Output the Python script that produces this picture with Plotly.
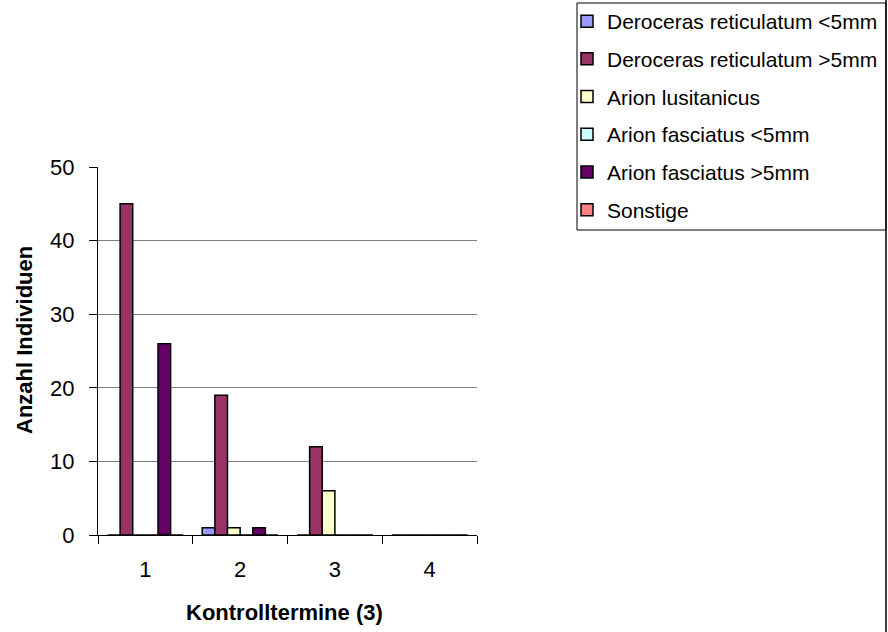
import plotly.graph_objects as go

categories = ["1", "2", "3", "4"]
series_names = [
    "Deroceras reticulatum <5mm",
    "Deroceras reticulatum >5mm",
    "Arion lusitanicus",
    "Arion fasciatus <5mm",
    "Arion fasciatus >5mm",
    "Sonstige",
]
dr_small = [0, 1, 0, 0]
dr_large = [45, 19, 12, 0]
arion_lus = [0, 1, 6, 0]
af_small = [0, 0, 0, 0]
af_large = [26, 1, 0, 0]
sonstige = [0, 0, 0, 0]
series_values = [dr_small, dr_large, arion_lus, af_small, af_large, sonstige]
colors = ["#9999FF", "#993366", "#FFFFCC", "#CCFFFF", "#660066", "#FF8080"]

FONT = "Arial, 'Liberation Sans', sans-serif"
W, H = 888, 632
L, R, T, B = 98, 477, 167, 535  # plot area in pixels


def px(x):
    return (x - L) / (R - L)


def py(y):
    return (B - y) / (B - T)


fig = go.Figure()
for i, (name, vals, col) in enumerate(zip(series_names, series_values, colors)):
    fig.add_trace(go.Bar(
        x=categories, y=vals, name=name, legendgroup=f"g{i}",
        marker=dict(color=col, line=dict(color="black", width=1.5)),
    ))

fig.update_layout(
    width=W, height=H,
    margin=dict(l=L, r=W - R, t=T, b=H - B, autoexpand=False),
    paper_bgcolor="white", plot_bgcolor="white",
    barmode="group", bargap=0.2, bargroupgap=0,
    font=dict(family=FONT, size=22, color="black"),
    legend=dict(
        xref="container", yref="container",
        x=567 / W, y=1 - 1 / H, xanchor="left", yanchor="top",
        borderwidth=0, bgcolor="rgba(0,0,0,0)",
        font=dict(family=FONT, size=21, color="black"),
        traceorder="grouped", tracegroupgap=7.4,
    ),
    xaxis=dict(
        type="category", showgrid=False, showline=True, linecolor="black", linewidth=1,
        ticks="outside", tickson="boundaries", ticklen=8, tickcolor="black",
        tickfont=dict(size=22), ticklabelstandoff=15, automargin=False,
    ),
    yaxis=dict(
        range=[0, 50], dtick=10, showgrid=True, gridcolor="#808080", gridwidth=1,
        showline=True, linecolor="black", linewidth=1, zeroline=False,
        ticks="outside", ticklen=8, tickcolor="black", ticklabelstandoff=10,
        tickfont=dict(size=22), automargin=False,
    ),
    showlegend=True,
    annotations=[
        dict(text="<b>Kontrolltermine (3)</b>", xref="paper", yref="paper",
             x=px(284), y=py(612), xanchor="center", yanchor="middle",
             showarrow=False, font=dict(size=22)),
        dict(text="<b>Anzahl Individuen</b>", xref="paper", yref="paper",
             x=px(24), y=py(340), xanchor="center", yanchor="middle",
             textangle=-90, showarrow=False, font=dict(size=22)),
    ],
    shapes=[
        # legend box
        dict(type="rect", xref="paper", yref="paper",
             x0=px(577), x1=px(886), y0=py(230), y1=py(3),
             line=dict(color="black", width=1), fillcolor="rgba(0,0,0,0)", layer="below"),
        # chart area right border
        dict(type="line", xref="paper", yref="paper",
             x0=px(886), x1=px(886), y0=py(0), y1=py(H),
             line=dict(color="black", width=1.5)),
    ],
)

fig.write_html(
    "out.html",
    config={"displayModeBar": False},
    post_script="document.body.style.margin='0';document.body.style.overflow='hidden';",
)
